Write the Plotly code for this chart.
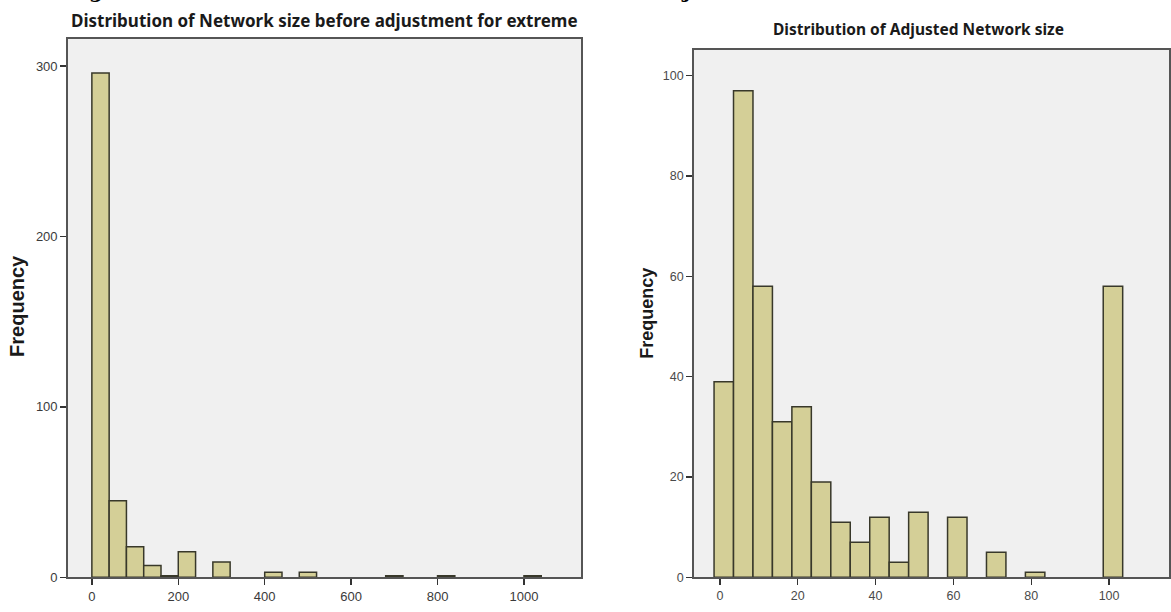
import plotly.graph_objects as go

# ---------------- data ----------------
left_bin_starts = [0, 40, 80, 120, 160, 200, 280, 400, 480, 680, 800, 1000]
left_counts = [296, 45, 18, 7, 1, 15, 9, 3, 3, 1, 1, 1]
left_bin_width = 40
left_xticks = [0, 200, 400, 600, 800, 1000]
left_yticks = [0, 100, 200, 300]
left_title = "Distribution of Network size before adjustment for extreme"

right_bin_centers = [1, 6, 11, 16, 21, 26, 31, 36, 41, 46, 51, 56, 61, 66, 71, 76, 81, 86, 91, 96, 101]
right_counts = [39, 97, 58, 31, 34, 19, 11, 7, 12, 3, 13, 0, 12, 0, 5, 0, 1, 0, 0, 0, 58]
right_bin_width = 5
right_xticks = [0, 20, 40, 60, 80, 100]
right_yticks = [0, 20, 40, 60, 80, 100]
right_title = "Distribution of Adjusted Network size"

y_label = "Frequency"

# ---------------- style ----------------
W, H = 1171, 612
BAR_FILL = "#D4CF97"
BAR_LINE = "#38382A"
PLOT_BG = "#F0F0F0"
FRAME = "#555555"

def px_x(p):
    return p / W

def px_y(p):
    return 1 - p / H

fig = go.Figure()

left_centers = [s + left_bin_width / 2 for s in left_bin_starts]
fig.add_trace(go.Bar(
    x=left_centers, y=left_counts, width=[left_bin_width] * len(left_counts),
    marker=dict(color=BAR_FILL,
                line=dict(color=BAR_LINE, width=[1.5 if c > 0 else 0 for c in left_counts])),
    xaxis="x", yaxis="y", showlegend=False, hoverinfo="skip",
))
fig.add_trace(go.Bar(
    x=right_bin_centers, y=right_counts, width=[right_bin_width] * len(right_counts),
    marker=dict(color=BAR_FILL,
                line=dict(color=BAR_LINE, width=[1.5 if c > 0 else 0 for c in right_counts])),
    xaxis="x2", yaxis="y2", showlegend=False, hoverinfo="skip",
))

tick_font_l = dict(family="Liberation Sans, Arial, sans-serif", size=13, color="#3A3A3A")
tick_font_r = dict(family="Liberation Sans, Arial, sans-serif", size=12.5, color="#4A4A4A")

axis_common = dict(showgrid=False, zeroline=False, showline=True, mirror=True,
                   linecolor=FRAME, linewidth=1.7, ticks="outside", ticklen=6,
                   tickcolor="#333333", tickwidth=1.4, fixedrange=True)

fig.update_layout(
    width=W, height=H,
    margin=dict(l=0, r=0, t=0, b=0),
    paper_bgcolor="white",
    plot_bgcolor=PLOT_BG,
    bargap=0,
    xaxis=dict(domain=[px_x(68), px_x(582)], range=[-55.5, 1132],
               tickvals=left_xticks, tickfont=tick_font_l, anchor="y", **axis_common),
    yaxis=dict(domain=[px_y(585), px_y(39.3)], range=[0, 316],
               tickvals=left_yticks, tickfont=tick_font_l, anchor="x", **axis_common),
    xaxis2=dict(domain=[px_x(695), 1.0], range=[-6.7, 115.4],
                tickvals=right_xticks, tickfont=tick_font_r, anchor="y2", **axis_common),
    yaxis2=dict(domain=[px_y(585), px_y(50.7)], range=[0, 105.1],
                tickvals=right_yticks, tickfont=tick_font_r, anchor="x2", **axis_common),
    annotations=[
        dict(text="<b>" + left_title + "</b>", xref="paper", yref="paper",
             x=px_x(325), y=px_y(21), xanchor="center", yanchor="middle", showarrow=False,
             font=dict(family="Noto Sans, Open Sans, sans-serif", size=17, color="#1A1A1A")),
        dict(text="<b>" + right_title + "</b>", xref="paper", yref="paper",
             x=px_x(920), y=px_y(29), xanchor="center", yanchor="middle", showarrow=False,
             font=dict(family="Noto Sans, Open Sans, sans-serif", size=15.5, color="#1A1A1A")),
        dict(text="<b>" + y_label + "</b>", xref="paper", yref="paper",
             x=px_x(17), y=px_y(310), xanchor="center", yanchor="middle", showarrow=False,
             textangle=-90,
             font=dict(family="Liberation Sans, Arial, sans-serif", size=20, color="#1A1A1A")),
        dict(text="<b>" + y_label + "</b>", xref="paper", yref="paper",
             x=px_x(648), y=px_y(317), xanchor="center", yanchor="middle", showarrow=False,
             textangle=-90,
             font=dict(family="Liberation Sans, Arial, sans-serif", size=18, color="#1A1A1A")),
        dict(text="<b>g</b>", xref="paper", yref="paper",
             x=px_x(96), y=px_y(5), xanchor="center", yanchor="bottom", showarrow=False,
             font=dict(family="DejaVu Serif, Liberation Serif, serif", size=20, color="#000000")),
        dict(text="<b>j</b>", xref="paper", yref="paper",
             x=px_x(687), y=px_y(5), xanchor="center", yanchor="bottom", showarrow=False,
             font=dict(family="DejaVu Serif, Liberation Serif, serif", size=20, color="#000000")),
    ],
)

fig.write_html(
    "out.html",
    config={"displayModeBar": False, "staticPlot": True},
    post_script=(
        "document.documentElement.style.margin='0';"
        "document.documentElement.style.padding='0';"
        "document.documentElement.style.overflow='hidden';"
        "document.body.style.margin='0';"
        "document.body.style.padding='0';"
        "document.body.style.overflow='hidden';"
    ),
)
